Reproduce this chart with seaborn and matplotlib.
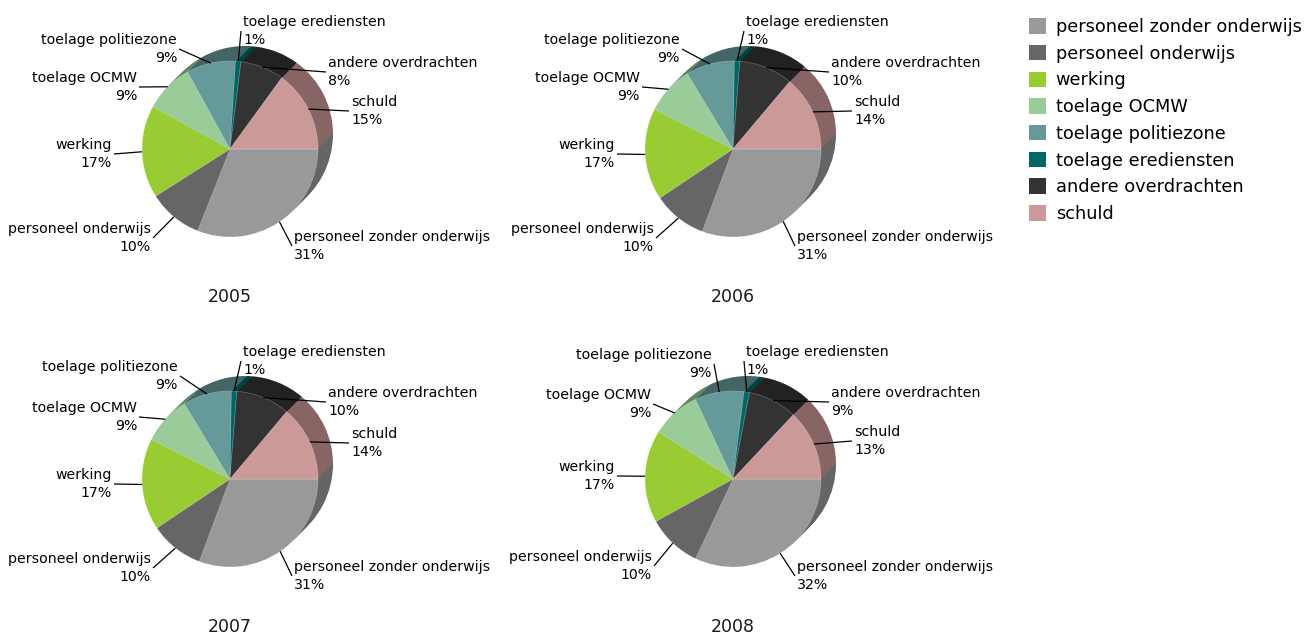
import numpy as np
import matplotlib
matplotlib.use("Agg")
import matplotlib.pyplot as plt
import seaborn as sns
from matplotlib.patches import Patch
from matplotlib.colors import to_rgb

# data
categories = ["personeel zonder onderwijs", "personeel onderwijs", "werking",
              "toelage OCMW", "toelage politiezone", "toelage erediensten",
              "andere overdrachten", "schuld"]
years = ["2005", "2006", "2007", "2008"]
shares_2005 = [31, 10, 17, 9, 9, 1, 8, 15]
shares_2006 = [31, 10, 17, 9, 9, 1, 10, 14]
shares_2007 = [31, 10, 17, 9, 9, 1, 10, 14]
shares_2008 = [32, 10, 17, 9, 9, 1, 9, 13]
shares = [shares_2005, shares_2006, shares_2007, shares_2008]

colors = ["#999999", "#666666", "#99cc33", "#99cc99",
          "#669999", "#006666", "#333333", "#cc9999"]

sns.set_theme(style="white")
plt.rcParams["font.family"] = ["DejaVu Sans"]

W, H = 1306, 635
fig = plt.figure(figsize=(W / 100, H / 100), dpi=100)
ax = fig.add_axes([0, 0, 1, 1])

# layout (pixel coords, y measured from top)
centers = [(230, 149), (733, 149), (230, 479), (733, 479)]
R = 88
DEPTH = 15
# label offsets from pie centre: dx, dy (down), alignment
base_off = {
    "personeel zonder onderwijs": (64, 97, "left"),
    "personeel onderwijs": (-79, 89, "right"),
    "werking": (-118, 5, "right"),
    "toelage OCMW": (-93, -62, "right"),
    "toelage politiezone": (-53, -100, "right"),
    "toelage erediensten": (13, -118, "left"),
    "andere overdrachten": (98, -77, "left"),
    "schuld": (121, -38, "left"),
}
year_off = {
    "2007": {"toelage politiezone": (-52, -103, "right"), "schuld": (121, -36, "left")},
    "2008": {"toelage politiezone": (-21, -115, "right"),
             "toelage OCMW": (-82, -75, "right"),
             "werking": (-118, -3, "right"),
             "personeel onderwijs": (-81, 87, "right")},
}

side_colors = [tuple(c * 0.66 for c in to_rgb(col)) for col in colors]

for year, vals, (cx, cy) in zip(years, shares, centers):
    Y = H - cy
    # extruded side, drawn back to front
    for k in range(DEPTH, 0, -1):
        ax.pie(vals, colors=side_colors, startangle=0, counterclock=False,
               center=(cx + k, Y + k), radius=R,
               wedgeprops=dict(linewidth=0, antialiased=True))
    wedges, _ = ax.pie(vals, colors=colors, startangle=0, counterclock=False,
                       center=(cx, Y), radius=R,
                       wedgeprops=dict(linewidth=0.4, edgecolor=(1, 1, 1, 0.35)))

    offs = dict(base_off)
    offs.update(year_off.get(year, {}))
    for w, cat, v in zip(wedges, categories, vals):
        mid = np.deg2rad((w.theta1 + w.theta2) / 2)
        px, py = cx + R * np.cos(mid), Y + R * np.sin(mid)
        dx, dy, ha = offs[cat]
        tx, ty = cx + dx, Y - dy
        ax.text(tx, ty, f"{cat}\n{v}%", ha=ha, va="center", fontsize=10.2,
                color="black", linespacing=1.3, multialignment=ha)
        ax_x = tx - 2 if ha == "left" else tx + 2
        ax.plot([px, ax_x], [py, ty], color="black", lw=0.9, solid_capstyle="butt")

    ax.text(cx, H - (cy + 148), year, ha="center", va="center", fontsize=12.5,
            color="#1a1a1a")

handles = [Patch(facecolor=c, edgecolor="none") for c in colors]
ax.legend(handles, categories, loc="upper left",
          bbox_to_anchor=(1029 / W, 1 - 18 / H), frameon=False,
          fontsize=12.8, handlelength=0.95, handleheight=0.95,
          handletextpad=0.55, labelspacing=0.49, borderpad=0, borderaxespad=0,
          labelcolor="black")

ax.set_xlim(0, W)
ax.set_ylim(0, H)
ax.set_aspect("equal")
ax.axis("off")

fig.savefig("out.png", dpi=100)
